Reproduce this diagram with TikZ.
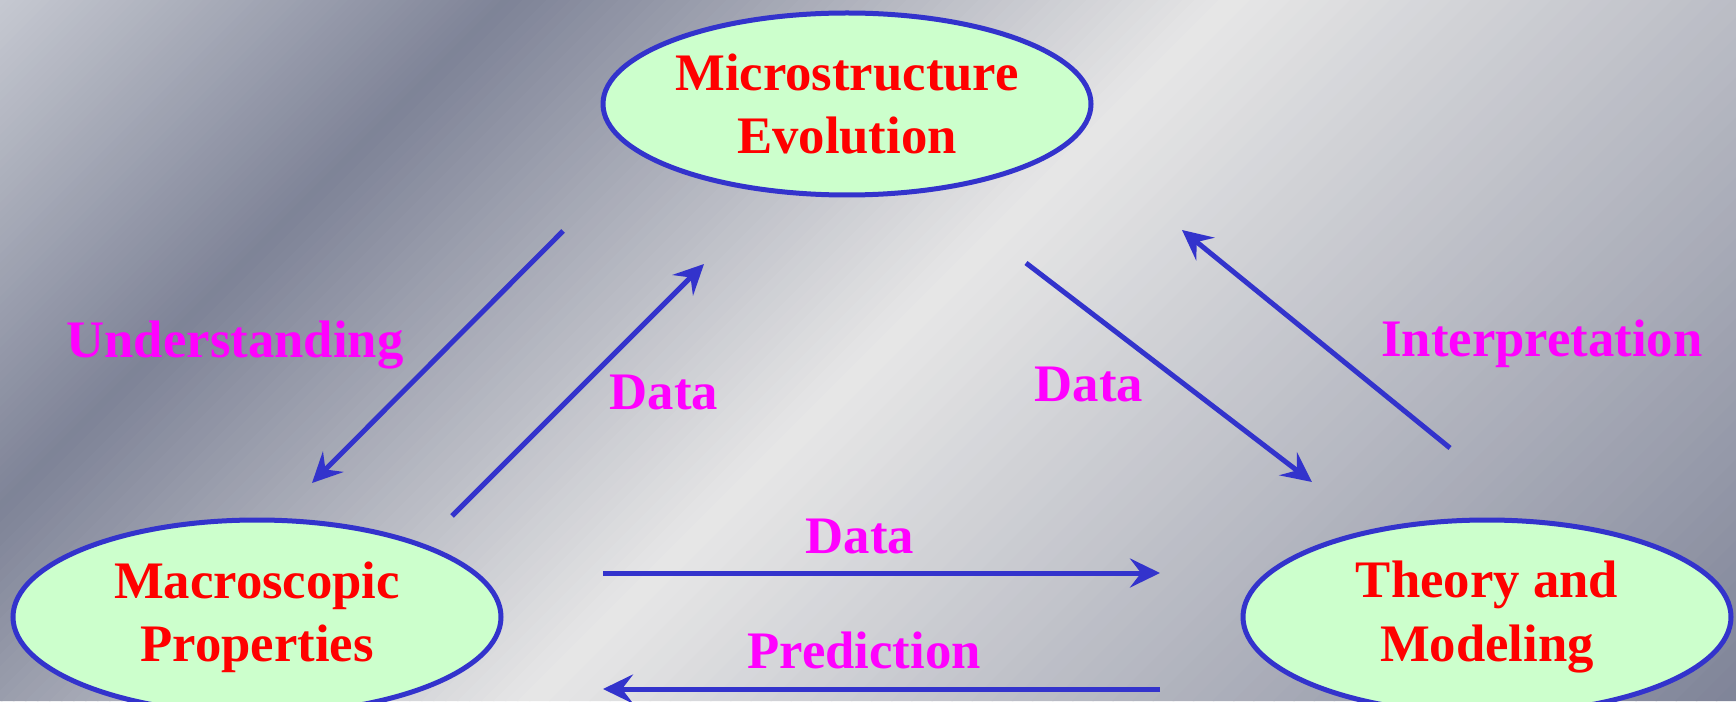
\documentclass[tikz,border=0pt]{standalone}
\usepackage{fontspec}
\setmainfont{Liberation Serif}
\usetikzlibrary{shapes.geometric,arrows.meta}

\definecolor{edgeblue}{RGB}{51,51,204}
\definecolor{bubblegreen}{RGB}{204,255,204}
\definecolor{textred}{RGB}{255,0,0}
\definecolor{tagmagenta}{RGB}{255,0,255}
\definecolor{bgedge}{HTML}{C6C9D1}
\definecolor{bgdark}{HTML}{7E8397}
\definecolor{bglight}{HTML}{E7E7E7}
\definecolor{bgcorner}{HTML}{7F8498}

\begin{document}
\begin{tikzpicture}[
	bubble/.style={ellipse, draw=edgeblue, fill=bubblegreen, line width=0.1cm, inner sep=0pt,
		minimum width=9.76cm, minimum height=3.64cm, align=center, text=textred,
		font=\fontsize{30}{36}\selectfont\bfseries},
	flow/.style={edgeblue, line width=0.1cm, -{Stealth[length=0.6cm,width=0.58cm,inset=0.22cm]}},
	tag/.style={anchor=base, text=tagmagenta, font=\fontsize{30}{36}\selectfont\bfseries}]
	\useasboundingbox (0,0) rectangle (34.72,14.02);
	
	% background: diagonal bands, light - dark - light - dark
	\begin{scope}
		\clip (0,0) rectangle (34.72,14.02);
		\foreach \ta/\tb/\ca/\cb in {0/10.2/bgedge/bgdark, 10.2/24.6/bgdark/bglight, 24.6/48.74/bglight/bgcorner}
			\foreach \k in {0,...,59} {
				\pgfmathsetmacro\sa{\ta+(\tb-\ta)*\k/60}
				\pgfmathsetmacro\sb{\ta+(\tb-\ta)*(\k+1)/60+0.03}
				\pgfmathsetmacro\mix{100*(\k+0.5)/60}
				\fill[\cb!\mix!\ca] (\sa,14.02) -- (\sb,14.02) -- (\sb-14.02,0) -- (\sa-14.02,0) -- cycle;
			}
	\end{scope}
	
	\node[bubble] (micro) at (16.94,11.94) {Microstructure\\Evolution};
	\node[bubble, minimum height=3.88cm] (macro) at (5.14,1.68) {Macroscopic\\Properties};
	\node[bubble, minimum height=3.88cm] (theory) at (29.74,1.68) {Theory and\\Modeling};
	
	\coordinate (und1) at (11.26,9.40);
	\coordinate (und2) at (6.24,4.36);
	\coordinate (up1) at (9.04,3.70);
	\coordinate (up2) at (14.08,8.74);
	\coordinate (down1) at (20.52,8.76);
	\coordinate (down2) at (26.24,4.38);
	\coordinate (int1) at (29.00,5.06);
	\coordinate (int2) at (23.64,9.42);
	\coordinate (dat1) at (12.06,2.56);
	\coordinate (dat2) at (23.20,2.56);
	\coordinate (pre1) at (23.20,0.24);
	\coordinate (pre2) at (12.06,0.24);
	
	\draw[flow] (und1) -- (und2);
	\draw[flow] (up1) -- (up2);
	\draw[flow] (down1) -- (down2);
	\draw[flow] (int1) -- (int2);
	\draw[flow] (dat1) -- (dat2);
	\draw[flow] (pre1) -- (pre2);
	
	\node[tag] (understanding) at (4.70,6.88) {Understanding};
	\node[tag] (interpretation) at (30.84,6.90) {Interpretation};
	\node[tag] (dataleft) at (13.28,5.82) {Data};
	\node[tag] (dataright) at (21.78,6.00) {Data};
	\node[tag] (databottom) at (17.20,2.96) {Data};
	\node[tag] (prediction) at (17.28,0.66) {Prediction};
\end{tikzpicture}
\end{document}
